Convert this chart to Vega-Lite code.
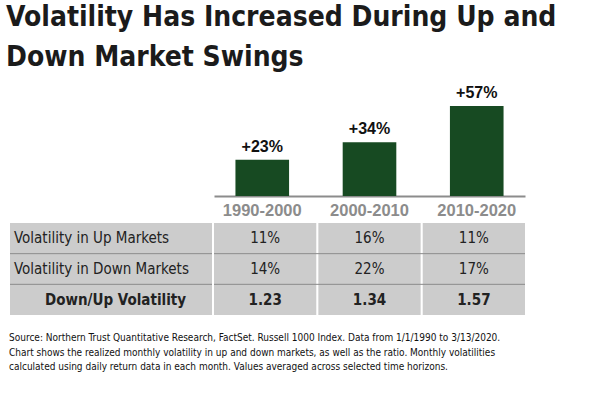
{
  "$schema": "https://vega.github.io/schema/vega-lite/v6.json",
  "background": "white",
  "padding": {"left": 6, "top": 3, "right": 0, "bottom": 0},
  "title": {
    "text": ["Volatility Has Increased During Up and", "Down Market Swings"],
    "anchor": "start",
    "frame": "group",
    "font": "DejaVu Sans Condensed",
    "fontWeight": "bold",
    "fontSize": 28,
    "lineHeight": 40,
    "color": "#1b1b1b",
    "dx": -4,
    "offset": 13
  },
  "config": {"view": {"stroke": null}},
  "datasets": {
    "periods": [
      {"period": "1990-2000", "change": 0.23},
      {"period": "2000-2010", "change": 0.34},
      {"period": "2010-2020", "change": 0.57}
    ],
    "rows": [
      {"row": "Volatility in Up Markets", "kind": "pct", "first": true},
      {"row": "Volatility in Down Markets", "kind": "pct", "first": false},
      {"row": "Down/Up Volatility", "kind": "ratio", "first": false}
    ],
    "cells": [
      {"period": "1990-2000", "row": "Volatility in Up Markets", "value": 0.11},
      {"period": "2000-2010", "row": "Volatility in Up Markets", "value": 0.16},
      {"period": "2010-2020", "row": "Volatility in Up Markets", "value": 0.11},
      {"period": "1990-2000", "row": "Volatility in Down Markets", "value": 0.14},
      {"period": "2000-2010", "row": "Volatility in Down Markets", "value": 0.22},
      {"period": "2010-2020", "row": "Volatility in Down Markets", "value": 0.17},
      {"period": "1990-2000", "row": "Down/Up Volatility", "value": 1.23},
      {"period": "2000-2010", "row": "Down/Up Volatility", "value": 1.34},
      {"period": "2010-2020", "row": "Down/Up Volatility", "value": 1.57}
    ]
  },
  "columns": 2,
  "align": "each",
  "bounds": "flush",
  "spacing": {"row": 27, "column": 2},
  "concat": [
    {
      "width": 202,
      "height": 100,
      "data": {"values": [{}]},
      "mark": {"type": "text", "text": ""},
      "encoding": {}
    },
    {
      "width": 311,
      "height": 100,
      "data": {"name": "periods"},
      "encoding": {
        "x": {
          "field": "period",
          "type": "nominal",
          "sort": null,
          "scale": {"paddingInner": 0.5, "paddingOuter": 0.2},
          "axis": {
            "title": null,
            "domainColor": "#8c8c8c",
            "domainWidth": 2,
            "ticks": false,
            "labelAngle": 0,
            "labelFont": "Liberation Sans",
            "labelFontWeight": "bold",
            "labelFontSize": 16.5,
            "labelColor": "#8c8c8c",
            "labelPadding": 6
          }
        },
        "y": {
          "field": "change",
          "type": "quantitative",
          "scale": {"domain": [0, 0.633]},
          "axis": null
        }
      },
      "layer": [
        {"mark": {"type": "bar", "color": "#174a22"}},
        {
          "mark": {
            "type": "text",
            "baseline": "bottom",
            "dy": -5,
            "font": "Liberation Sans",
            "fontWeight": "bold",
            "fontSize": 16,
            "color": "#111111"
          },
          "encoding": {"text": {"field": "change", "type": "quantitative", "format": "+.0%"}}
        }
      ]
    },
    {
      "width": 202,
      "height": 92,
      "data": {"name": "rows"},
      "encoding": {
        "y": {
          "field": "row",
          "type": "nominal",
          "sort": null,
          "scale": {"paddingInner": 0, "paddingOuter": 0},
          "axis": null
        }
      },
      "layer": [
        {"mark": {"type": "rect", "color": "#cccccc"}},
        {
          "transform": [{"filter": "!datum.first"}],
          "mark": {"type": "rule", "color": "#8a8a8a", "strokeWidth": 1},
          "encoding": {"y": {"field": "row", "type": "nominal", "sort": null, "bandPosition": 0}}
        },
        {
          "transform": [{"filter": "datum.kind == 'pct'"}],
          "mark": {
            "type": "text",
            "align": "left",
            "baseline": "middle",
            "dx": -97,
            "font": "DejaVu Sans Condensed",
            "fontSize": 15,
            "color": "#222222"
          },
          "encoding": {"text": {"field": "row"}}
        },
        {
          "transform": [{"filter": "datum.kind == 'ratio'"}],
          "mark": {
            "type": "text",
            "align": "right",
            "baseline": "middle",
            "dx": 75,
            "font": "DejaVu Sans Condensed",
            "fontWeight": "bold",
            "fontSize": 15,
            "color": "#222222"
          },
          "encoding": {"text": {"field": "row"}}
        }
      ]
    },
    {
      "width": 311,
      "height": 92,
      "layer": [
        {
          "data": {"name": "cells"},
          "mark": {"type": "rect", "color": "#cccccc"},
          "encoding": {
            "x": {"field": "period", "type": "nominal", "sort": null, "scale": {"paddingInner": 0.02, "paddingOuter": 0}, "axis": null},
            "y": {"field": "row", "type": "nominal", "sort": null, "scale": {"paddingInner": 0, "paddingOuter": 0}, "axis": null}
          }
        },
        {
          "data": {"name": "rows"},
          "transform": [{"filter": "!datum.first"}],
          "mark": {"type": "rule", "color": "#8a8a8a", "strokeWidth": 1},
          "encoding": {"y": {"field": "row", "type": "nominal", "sort": null, "bandPosition": 0}}
        },
        {
          "data": {"name": "cells"},
          "transform": [{"filter": "datum.row != 'Down/Up Volatility'"}],
          "mark": {"type": "text", "baseline": "middle", "font": "DejaVu Sans Condensed", "fontSize": 15, "color": "#222222"},
          "encoding": {
            "x": {"field": "period", "type": "nominal", "sort": null},
            "y": {"field": "row", "type": "nominal", "sort": null},
            "text": {"field": "value", "type": "quantitative", "format": ".0%"}
          }
        },
        {
          "data": {"name": "cells"},
          "transform": [{"filter": "datum.row == 'Down/Up Volatility'"}],
          "mark": {"type": "text", "baseline": "middle", "font": "DejaVu Sans Condensed", "fontWeight": "bold", "fontSize": 15, "color": "#222222"},
          "encoding": {
            "x": {"field": "period", "type": "nominal", "sort": null},
            "y": {"field": "row", "type": "nominal", "sort": null},
            "text": {"field": "value", "type": "quantitative", "format": ".2f"}
          }
        }
      ]
    },
    {
      "width": 202,
      "height": 20,
      "data": {"values": [{}]},
      "mark": {
        "type": "text",
        "text": [
          "Source: Northern Trust Quantitative Research, FactSet. Russell 1000 Index. Data from 1/1/1990 to 3/13/2020.",
          "Chart  shows the realized monthly volatility in up and down markets, as well as the ratio. Monthly volatilities",
          "calculated using daily return data in each month. Values averaged across selected time horizons."
        ],
        "align": "left",
        "baseline": "top",
        "dx": -102,
        "dy": -19,
        "font": "DejaVu Sans Condensed",
        "fontSize": 10,
        "lineHeight": 14.5,
        "color": "#111111"
      },
      "encoding": {}
    }
  ]
}
